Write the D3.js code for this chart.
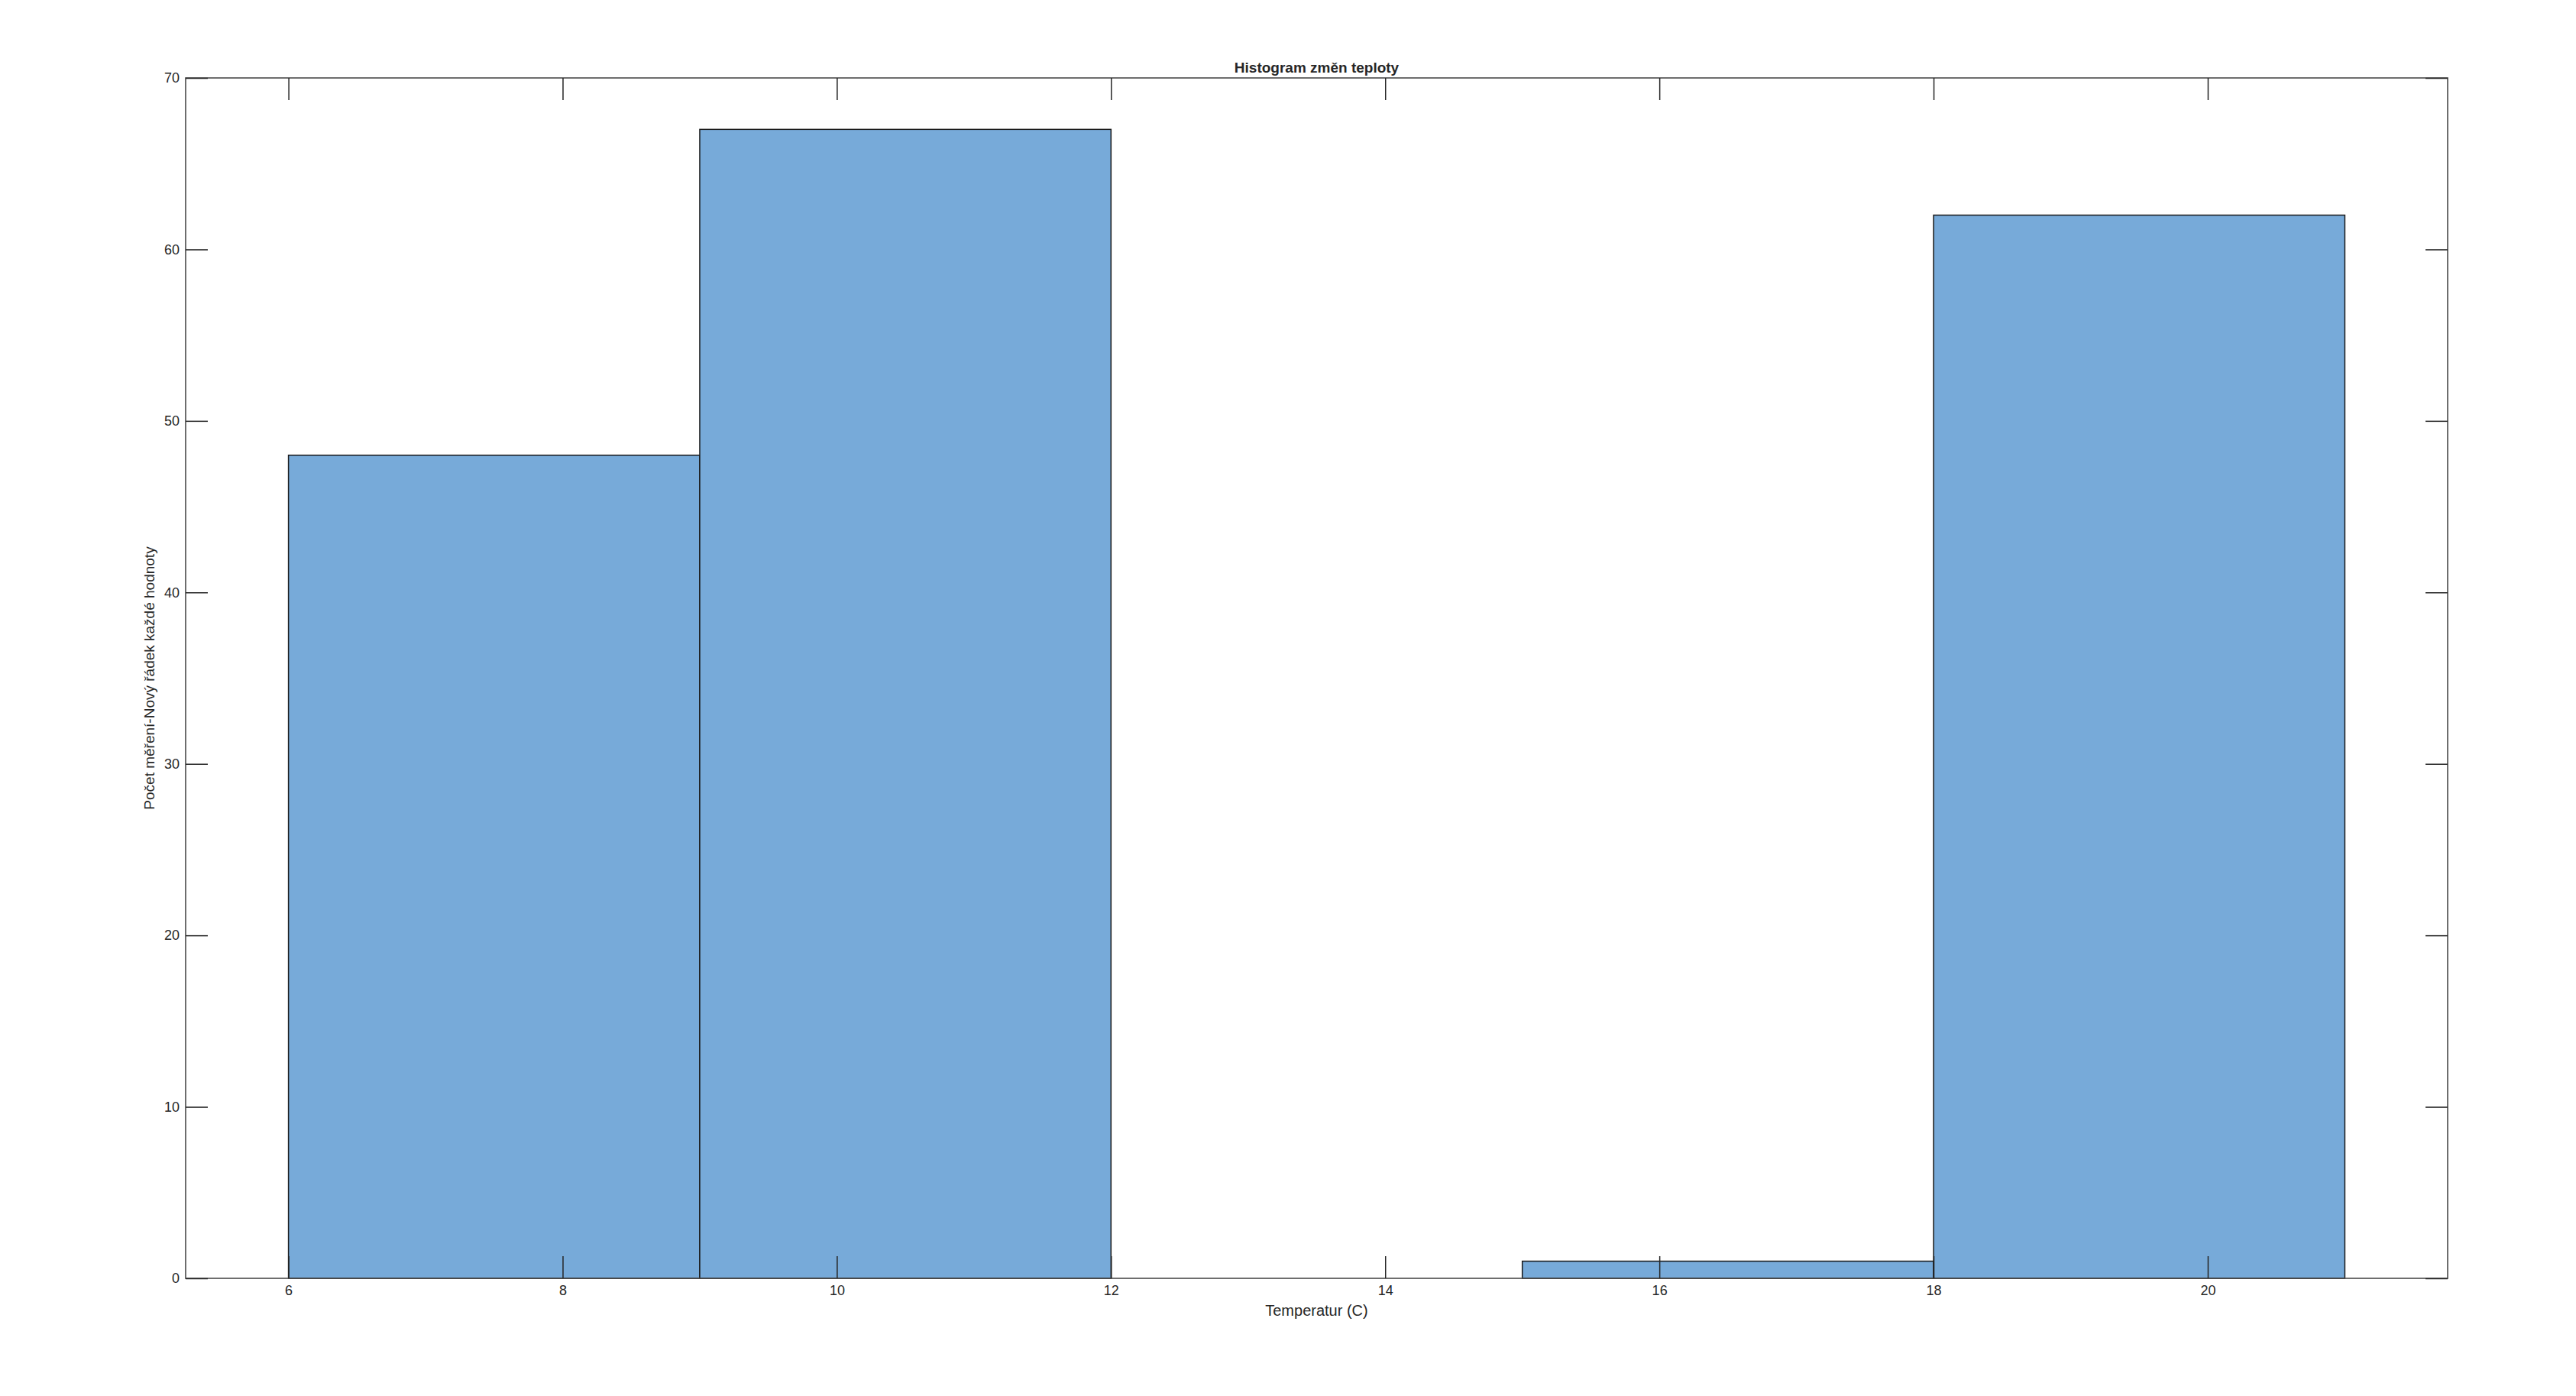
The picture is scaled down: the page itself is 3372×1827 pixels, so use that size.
<!DOCTYPE html>
<html>
<head>
<meta charset="utf-8">
<script src="https://cdn.jsdelivr.net/npm/d3@7"></script>
<style>
  body { margin: 0; background: #fff; }
  text { font-family: "Liberation Sans", Arial, sans-serif; fill: #262626; }
</style>
</head>
<body>
<div id="plot"></div>
<script>
// histogram bins (edges) and counts
const binEdges = [6, 9, 12, 15, 18, 21];
const counts = [48, 67, 0, 1, 62];
const xTicks = [6, 8, 10, 12, 14, 16, 18, 20];
const yTicks = [0, 10, 20, 30, 40, 50, 60, 70];
const title = "Histogram změn teploty";
const xLabel = "Temperatur (C)";
const yLabel = "Počet měření-Nový řádek každé hodnoty";

const svgWidth = 3372, svgHeight = 1827;
const margin = { top: 102, right: 168, bottom: 154, left: 243 };
const width = svgWidth - margin.left - margin.right;
const height = svgHeight - margin.top - margin.bottom;
const tickLen = 29;

const svg = d3.select('#plot')
    .append('svg')
    .attr("width", svgWidth)
    .attr("height", svgHeight)
    .append("g")
    .attr("transform", "translate(" + margin.left + "," + margin.top + ")");

const x = d3.scaleLinear().domain([5.25, 21.75]).range([0, width]);
const y = d3.scaleLinear().domain([0, 70]).range([height, 0]);

const bins = counts.map(function(c, i) {
    return { x0: binEdges[i], x1: binEdges[i + 1], count: c };
});

// bars
svg.selectAll("rect.bar")
    .data(bins.filter(function(d) { return d.count > 0; }))
    .enter()
    .append("rect")
    .attr("class", "bar")
    .attr("x", function(d) { return x(d.x0); })
    .attr("y", function(d) { return y(d.count); })
    .attr("width", function(d) { return x(d.x1) - x(d.x0); })
    .attr("height", function(d) { return y(0) - y(d.count); })
    .style("fill", "#77aad9")
    .attr("stroke", "#1a1a1a")
    .attr("stroke-width", 1.5);

// axes box
const axisColor = "#4a4a4a";
svg.append("rect")
    .attr("x", 0).attr("y", 0)
    .attr("width", width).attr("height", height)
    .attr("fill", "none")
    .attr("stroke", axisColor)
    .attr("stroke-width", 1.6);

// x ticks (bottom and top, pointing inward)
const xAxisB = svg.append("g").attr("transform", "translate(0," + height + ")")
    .call(d3.axisBottom(x).tickValues(xTicks).tickSizeInner(-tickLen).tickSizeOuter(0).tickPadding(9));
const xAxisT = svg.append("g")
    .call(d3.axisTop(x).tickValues(xTicks).tickSizeInner(-tickLen).tickSizeOuter(0).tickFormat(""));

// y ticks (left and right, pointing inward)
const yAxisL = svg.append("g")
    .call(d3.axisLeft(y).tickValues(yTicks).tickSizeInner(-tickLen).tickSizeOuter(0).tickPadding(8));
const yAxisR = svg.append("g").attr("transform", "translate(" + width + ",0)")
    .call(d3.axisRight(y).tickValues(yTicks).tickSizeInner(-tickLen).tickSizeOuter(0).tickFormat(""));

[xAxisB, xAxisT, yAxisL, yAxisR].forEach(function(a) {
    a.select(".domain").remove();
    a.selectAll("line").attr("stroke", "#262626").attr("stroke-width", 1.5);
    a.selectAll("text")
        .style("font-family", '"Liberation Sans", Arial, sans-serif')
        .style("font-size", "18px")
        .attr("fill", "#262626");
});

// title
svg.append("text")
    .attr("x", width / 2)
    .attr("y", -7)
    .attr("text-anchor", "middle")
    .style("font-size", "19px")
    .style("font-weight", "bold")
    .text(title);

// x label
svg.append("text")
    .attr("x", width / 2)
    .attr("y", height + 49)
    .attr("text-anchor", "middle")
    .style("font-size", "20px")
    .text(xLabel);

// y label
svg.append("text")
    .attr("transform", "translate(" + (-41) + "," + (height / 2) + ") rotate(-90)")
    .attr("text-anchor", "middle")
    .style("font-size", "19px")
    .text(yLabel);
</script>
</body>
</html>
